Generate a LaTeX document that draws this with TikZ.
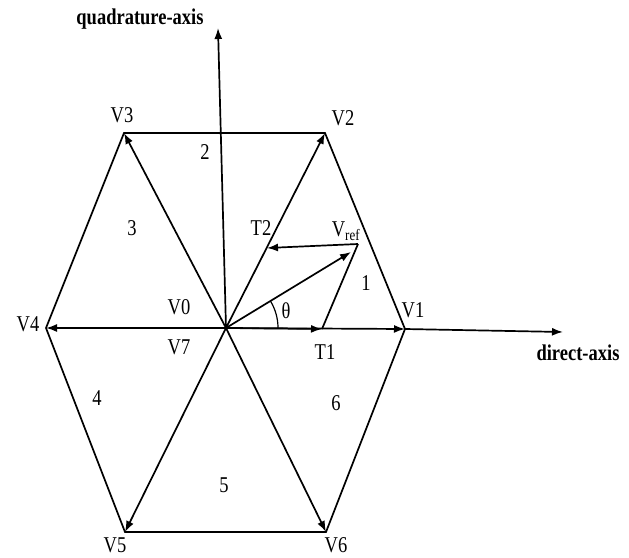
\documentclass[tikz,border=0pt]{standalone}
\usepackage{fontspec}
\usepackage{graphicx}
\setmainfont{Liberation Serif}
\usetikzlibrary{arrows.meta}
\newcommand{\tallbox}[1]{\scalebox{1}[1.22]{#1}}
\begin{document}
\begin{tikzpicture}[x=1pt,y=-1pt,
  ln/.style={line width=1.7pt},
  arr/.style={line width=1.7pt,-{Latex[length=11pt,width=8pt]}},
  lbl/.style={inner sep=0pt,font=\fontsize{18.5}{22}\selectfont},
  axlbl/.style={inner sep=0pt,font=\fontsize{18.5}{22}\selectfont\bfseries}]
\useasboundingbox (0,0) rectangle (629,557);
% vertices
\coordinate (O) at (226,328);
\coordinate (V1) at (405,329);
\coordinate (V2) at (325,133);
\coordinate (V3) at (124,133);
\coordinate (V4) at (46,328);
\coordinate (V5) at (125,532);
\coordinate (V6) at (326,532);
\coordinate (D) at (563,332);
\coordinate (Q) at (218,28);
\coordinate (T1) at (322,329);
\coordinate (P) at (358,244);
\coordinate (T2) at (267,248);
\coordinate (R) at (351,252);
% hexagon
\draw[ln,line join=miter] (V3) -- (V2) -- (V1) -- (V6) -- (V5) -- (V4) -- cycle;
% spokes
\draw[arr] (O) -- (V2);
\draw[arr] (O) -- (V3);
\draw[arr] (O) -- (V4);
\draw[arr] (O) -- (V5);
\draw[arr] (O) -- (V6);
\draw[arr] (O) -- (V1);
\draw[arr] (V1) -- (D);
\draw[arr] (O) -- (Q);
% reference construction
\draw[arr] (O) -- (T1);
\draw[ln] (T1) -- (P);
\draw[arr] (P) -- (T2);
\draw[arr] (O) -- (R);
\draw[line width=1.2pt] (O) ++(52,0) arc[start angle=0,end angle=-31,radius=52];
% labels
\node[axlbl] (ql) at (140,19) {\tallbox{quadrature-axis}};
\node[axlbl] (dl) at (578,353) {\tallbox{direct-axis}};
\node[lbl] (l1) at (413,310) {\tallbox{V1}};
\node[lbl] (l2) at (343,118) {\tallbox{V2}};
\node[lbl] (l3) at (122,115) {\tallbox{V3}};
\node[lbl] (l4) at (28,324) {\tallbox{V4}};
\node[lbl] (l5) at (115,545) {\tallbox{V5}};
\node[lbl] (l6) at (336,545) {\tallbox{V6}};
\node[lbl] (l0) at (179,307) {\tallbox{V0}};
\node[lbl] (l7) at (179,347) {\tallbox{V7}};
\node[lbl] (lt1) at (325,352) {\tallbox{T1}};
\node[lbl] (lt2) at (261,228) {\tallbox{T2}};
\node[lbl] (lr) at (346,231) {\tallbox{V\textsubscript{ref}}};
\node[lbl] (lth) at (286,311) {\tallbox{θ}};
\node[lbl] (s1) at (366,283) {\tallbox{1}};
\node[lbl] (s2) at (205,152) {\tallbox{2}};
\node[lbl] (s3) at (132,228) {\tallbox{3}};
\node[lbl] (s4) at (97,398) {\tallbox{4}};
\node[lbl] (s5) at (224,485) {\tallbox{5}};
\node[lbl] (s6) at (336,403) {\tallbox{6}};
\end{tikzpicture}
\end{document}
